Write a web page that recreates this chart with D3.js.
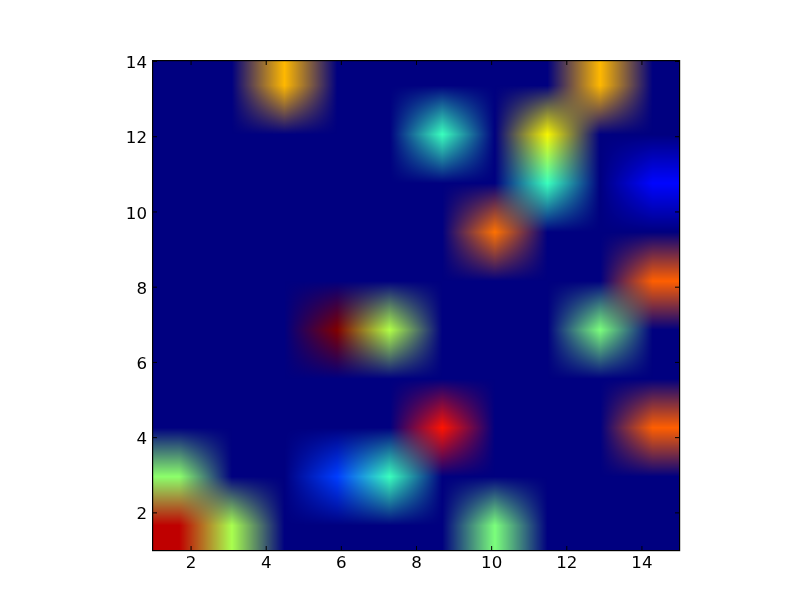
<!DOCTYPE html>
<html><head><meta charset="utf-8">
<script src="https://cdn.jsdelivr.net/npm/d3@7"></script>
<style>
html,body{margin:0;padding:0;background:#fff}
#wrap{position:relative;width:812px;height:612px;overflow:hidden}
canvas,svg{position:absolute;left:0;top:0}
text{font-family:"DejaVu Sans",sans-serif;font-size:16.67px;fill:#000}
</style></head><body><div id="wrap"><canvas id="c" width="812" height="612"></canvas><svg id="s" width="812" height="612"></svg></div>
<script>
const xDomain=[1,15], yDomain=[1,14];
const xTicks=[2,4,6,8,10,12,14], yTicks=[2,4,6,8,10,12,14];
// cell values, first row is the bottom row of the picture
const row0=[0.945,0.555,0,0,0,0,0.50,0,0,0];
const row1=[0.52,0,0,0.185,0.42,0,0,0,0,0];
const row2=[0,0,0,0,0,0.89,0,0,0,0.81];
const row3=[0,0,0,0,0,0,0,0,0,0];
const row4=[0,0,0,1.0,0.565,0,0,0,0.50,0];
const row5=[0,0,0,0,0,0,0,0,0,0.81];
const row6=[0,0,0,0,0,0,0.79,0,0,0];
const row7=[0,0,0,0,0,0,0,0.42,0,0.13];
const row8=[0,0,0,0,0,0.42,0,0.65,0,0];
const row9=[0,0,0.715,0,0,0,0,0,0.715,0];
const rows=[row0,row1,row2,row3,row4,row5,row6,row7,row8,row9];
const jetR=d3.scaleLinear().domain([0,0.35,0.66,0.89,1]).range([0,0,1,1,0.5]);
const jetG=d3.scaleLinear().domain([0,0.125,0.375,0.64,0.91,1]).range([0,0,1,1,0,0]);
const jetB=d3.scaleLinear().domain([0,0.11,0.34,0.65,1]).range([0.5,1,1,0,0]);
const L=153,R=679,T=61,B=550;
const x=d3.scaleLinear().domain(xDomain).range([L,R]);
const y=d3.scaleLinear().domain(yDomain).range([B,T]);
const nC=rows[0].length,nR=rows.length;
const colX=d3.scaleLinear().domain(xDomain).range([-0.5,nC-0.5]);
const rowY=d3.scaleLinear().domain(yDomain).range([-0.5,nR-0.5]);
const rgb=rows.map(r=>r.map(v=>[jetR(v),jetG(v),jetB(v)]));
const ctx=document.getElementById('c').getContext('2d');
const W=R-L,H=B-T,img=ctx.createImageData(W,H);
const clamp=(v,a,b)=>Math.max(a,Math.min(b,v));
for(let py=0;py<H;py++){
  const v=clamp(rowY(y.invert(T+py+0.5)),0,nR-1),j0=Math.min(Math.floor(v),nR-2),fy=v-j0;
  for(let px=0;px<W;px++){
    const u=clamp(colX(x.invert(L+px+0.5)),0,nC-1),i0=Math.min(Math.floor(u),nC-2),fx=u-i0;
    const o=(py*W+px)*4;
    for(let k=0;k<3;k++){
      const a=rgb[j0][i0][k]*(1-fx)+rgb[j0][i0+1][k]*fx;
      const b=rgb[j0+1][i0][k]*(1-fx)+rgb[j0+1][i0+1][k]*fx;
      img.data[o+k]=Math.round(255*(a*(1-fy)+b*fy));
    }
    img.data[o+3]=255;
  }
}
ctx.putImageData(img,L,T);
const svg=d3.select('#s');
function ax(gen,tx,ty){const g=svg.append('g').attr('transform',`translate(${tx},${ty})`).call(gen);
  g.selectAll('.domain').remove();g.selectAll('.tick line').attr('stroke','#000').attr('stroke-width',1);return g;}
ax(d3.axisBottom(x).tickValues(xTicks).tickFormat(d3.format('d')).tickSizeInner(-4).tickPadding(13),0,B).selectAll('text').attr('dy','0.71em').attr('y',6.5);
ax(d3.axisLeft(y).tickValues(yTicks).tickFormat(d3.format('d')).tickSizeInner(-4).tickPadding(6),L,0).selectAll('text').attr('y',1.2);
ax(d3.axisTop(x).tickValues(xTicks).tickFormat('').tickSizeInner(-4),0,T);
ax(d3.axisRight(y).tickValues(yTicks).tickFormat('').tickSizeInner(-4),R,0);
svg.append('rect').attr('x',L-0.4).attr('y',T-0.4).attr('width',W+1).attr('height',H+1).attr('fill','none').attr('stroke','#000').attr('stroke-width',1.2);
</script></body></html>
